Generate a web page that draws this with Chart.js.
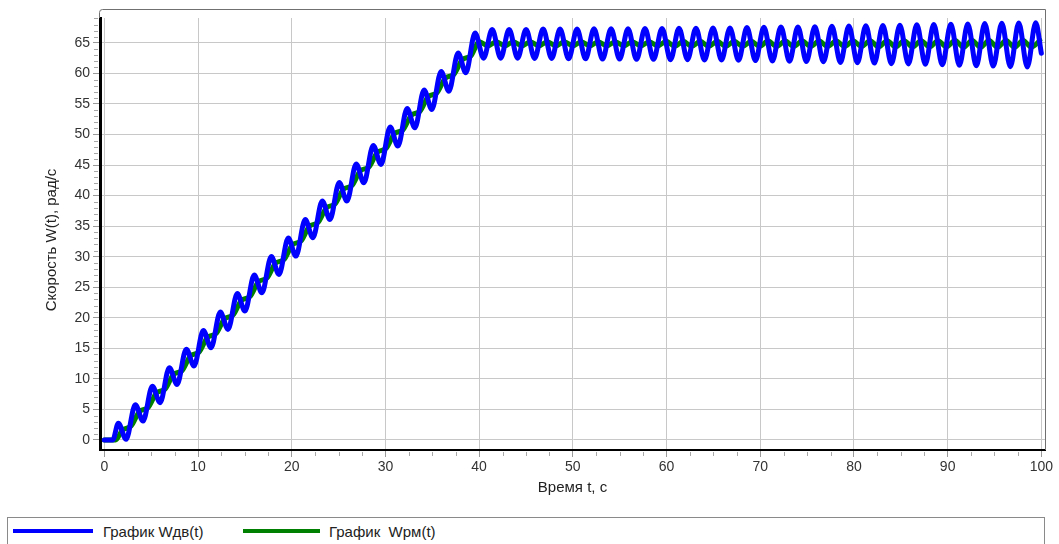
<!DOCTYPE html>
<html lang="ru">
<head>
<meta charset="utf-8">
<title>Скорость W(t)</title>
<script src="https://cdn.jsdelivr.net/npm/chart.js@4.4.1/dist/chart.umd.min.js"></script>
<style>
  html, body { margin: 0; padding: 0; background: #fff; }
  body { width: 1059px; height: 544px; overflow: hidden; position: relative; font-family: "Liberation Sans", Arial, sans-serif; }
  #wrap { position: absolute; left: 0; top: 0; width: 1059px; height: 505px; }
  #legend { position: absolute; left: 7px; top: 517px; width: 1038px; height: 40px; border: 1px solid #8a8a8a; box-sizing: border-box; }
  .swatch { position: absolute; top: 11px; height: 4px; }
  .item { position: absolute; top: 5px; font-size: 15px; line-height: 18px; color: #222; white-space: pre; }
</style>
</head>
<body>
<div id="wrap"><canvas id="chart" width="1059" height="505"></canvas></div>
<div id="legend">
  <div class="swatch" style="left:5px;width:80px;background:#0000ff"></div>
  <div class="item" style="left:95px">График Wдв(t)</div>
  <div class="swatch" style="left:235px;width:77px;background:#008000"></div>
  <div class="item" style="left:321px">График  Wрм(t)</div>
</div>
<script>
// Motor speed Wдв(t): start, then peaks/troughs of the oscillation, t in seconds
const wdvT = [0, 0.9,
  1.50, 2.32, 3.31, 4.13, 5.13, 5.95, 6.94, 7.76, 8.75, 9.57, 10.57, 11.39, 12.38, 13.20,
  14.19, 15.01, 16.00, 16.82, 17.82, 18.64, 19.63, 20.45, 21.44, 22.26, 23.26, 24.08,
  25.07, 25.89, 26.88, 27.70, 28.70, 29.52, 30.51, 31.33, 32.32, 33.14, 34.13, 34.95,
  35.95, 36.77, 37.76, 38.58,
  39.57, 40.48, 41.39, 42.30, 43.20, 44.11, 45.01, 45.92, 46.83, 47.74, 48.64, 49.55,
  50.45, 51.36, 52.26, 53.17, 54.08, 54.99, 55.89, 56.80, 57.70, 58.61, 59.52, 60.43,
  61.33, 62.24, 63.14, 64.05, 64.96, 65.87, 66.77, 67.68, 68.58, 69.49, 70.39, 71.30,
  72.21, 73.12, 74.02, 74.93, 75.83, 76.74, 77.65, 78.56, 79.46, 80.37, 81.27, 82.18,
  83.09, 84.00, 84.90, 85.81, 86.71, 87.62, 88.52, 89.43, 90.34, 91.25, 92.15, 93.06,
  93.96, 94.87, 95.78, 96.69, 97.59, 98.50, 99.40, 100];
const wdvV = [0, 0,
  2.75, 0.10, 5.78, 3.10, 8.81, 6.10, 11.84, 9.10, 14.87, 12.10, 17.90, 15.10, 20.93, 18.10,
  23.96, 21.10, 26.99, 24.10, 30.02, 27.10, 33.05, 30.10, 36.08, 33.10, 39.11, 36.10,
  42.14, 39.10, 45.17, 42.10, 48.20, 45.10, 51.23, 48.10, 54.26, 51.10, 57.29, 54.10,
  60.32, 57.10, 63.35, 60.10,
  66.6, 62.5, 67.2, 62.5, 67.2, 62.5, 67.2, 62.45, 67.25, 62.45, 67.25, 62.4,
  67.25, 62.4, 67.3, 62.35, 67.3, 62.35, 67.3, 62.3, 67.35, 62.3, 67.35, 62.25,
  67.4, 62.25, 67.4, 62.2, 67.45, 62.2, 67.45, 62.15, 67.5, 62.1, 67.55, 62.05,
  67.6, 62.0, 67.6, 61.95, 67.65, 61.9, 67.7, 61.8, 67.75, 61.75, 67.8, 61.7,
  67.85, 61.6, 67.9, 61.55, 67.95, 61.5, 68.0, 61.4, 68.05, 61.35, 68.1, 61.25,
  68.15, 61.2, 68.2, 61.1, 68.25, 61.05, 68.3, 63.3];

// Mechanism speed Wрм(t)
const wrmT = [0, 1.2,
  1.95, 2.86, 3.76, 4.67, 5.58, 6.49, 7.39, 8.30, 9.20, 10.11, 11.02, 11.93, 12.83, 13.74,
  14.64, 15.55, 16.45, 17.36, 18.27, 19.18, 20.08, 20.99, 21.89, 22.80, 23.71, 24.62,
  25.52, 26.43, 27.33, 28.24, 29.15, 30.06, 30.96, 31.87, 32.77, 33.68, 34.58, 35.49,
  36.40, 37.31, 38.21, 39.12,
  40.02, 40.93, 41.84, 42.75, 43.65, 44.56, 45.46, 46.37, 47.28, 48.19, 49.09, 50.00,
  50.90, 51.81, 52.71, 53.62, 54.53, 55.44, 56.34, 57.25, 58.15, 59.06, 59.97, 60.88,
  61.78, 62.69, 63.59, 64.50, 65.41, 66.32, 67.22, 68.13, 69.03, 69.94, 70.84, 71.75,
  72.66, 73.57, 74.47, 75.38, 76.28, 77.19, 78.10, 79.01, 79.91, 80.82, 81.72, 82.63,
  83.54, 84.45, 85.35, 86.26, 87.16, 88.07, 88.97, 89.88, 90.79, 91.70, 92.60, 93.51,
  94.41, 95.32, 96.23, 97.14, 98.04, 98.95, 99.85];
const wrmV = [0, 0,
  1.65, 2.27, 4.68, 5.30, 7.71, 8.33, 10.74, 11.36, 13.77, 14.39, 16.80, 17.42, 19.83, 20.45,
  22.86, 23.48, 25.89, 26.51, 28.92, 29.54, 31.95, 32.57, 34.98, 35.60, 38.01, 38.63,
  41.04, 41.66, 44.07, 44.69, 47.10, 47.72, 50.13, 50.75, 53.16, 53.78, 56.19, 56.81,
  59.22, 59.84, 62.25, 62.87,
  65.2, 64.5, 65.2, 64.5, 65.2, 64.5, 65.2, 64.5, 65.2, 64.5, 65.2, 64.5,
  65.2, 64.5, 65.2, 64.5, 65.2, 64.5, 65.2, 64.5, 65.2, 64.5, 65.25, 64.45,
  65.25, 64.45, 65.25, 64.45, 65.25, 64.45, 65.25, 64.45, 65.25, 64.45, 65.3, 64.4,
  65.3, 64.4, 65.3, 64.4, 65.3, 64.4, 65.3, 64.4, 65.3, 64.4, 65.35, 64.35,
  65.35, 64.35, 65.35, 64.35, 65.35, 64.35, 65.35, 64.35, 65.4, 64.3, 65.4, 64.3,
  65.4, 64.3, 65.4, 64.3, 65.4, 64.3, 65.4];

const seriesNames = ['График Wдв(t)', 'График  Wрм(t)'];
const yTitle = 'Скорость W(t), рад/с';

const fontFamily = '"Liberation Sans", Arial, sans-serif';
const tickFont = { family: fontFamily, size: 14 };
const titleFont = { family: fontFamily, size: 15 };

// small ticks between the labelled ones
const minorTicks = {
  id: 'minorTicks',
  afterDraw(chart) {
    const { ctx, chartArea: a, scales: { x, y } } = chart;
    ctx.save();
    ctx.strokeStyle = '#a8a8a8';
    ctx.lineWidth = 1;
    ctx.beginPath();
    for (let v = 1; v <= 69; v++) {
      if (v % 5 === 0) continue;
      const py = Math.round(y.getPixelForValue(v)) + 0.5;
      ctx.moveTo(a.left - 6, py);
      ctx.lineTo(a.left - 2, py);
    }
    for (let v = 2.5; v < 100; v += 2.5) {
      if (v % 10 === 0) continue;
      const px = Math.round(x.getPixelForValue(v)) + 0.5;
      ctx.moveTo(px, a.bottom + 2);
      ctx.lineTo(px, a.bottom + 6);
    }
    ctx.stroke();
    ctx.restore();
  }
};

// thin frame along the top and right of the plot, plus the rotated y title
const frame = {
  id: 'frame',
  beforeDatasetsDraw(chart) {
    const { ctx, chartArea: a } = chart;
    const top = a.top - 8.5;
    ctx.save();
    ctx.strokeStyle = '#707070';
    ctx.lineWidth = 1;
    ctx.beginPath();
    ctx.moveTo(a.left - 0.5, a.top);
    ctx.lineTo(a.left - 0.5, top + 3);
    ctx.quadraticCurveTo(a.left - 0.5, top, a.left + 2.5, top);
    ctx.lineTo(a.right + 0.5, top);
    ctx.lineTo(a.right + 0.5, a.bottom);
    ctx.stroke();

    ctx.translate(52, (a.top + a.bottom) / 2 + 6);
    ctx.rotate(-Math.PI / 2);
    ctx.font = `${titleFont.size}px ${fontFamily}`;
    ctx.fillStyle = '#222';
    ctx.textAlign = 'center';
    ctx.textBaseline = 'middle';
    ctx.fillText(yTitle, 0, 0);
    ctx.restore();
  }
};

new Chart(document.getElementById('chart'), {
  type: 'line',
  data: {
    datasets: [
      {
        label: seriesNames[0],
        data: wdvT.map((t, i) => ({ x: t, y: wdvV[i] })),
        borderColor: '#0000ff',
        borderWidth: 5,
        pointRadius: 0,
        cubicInterpolationMode: 'monotone',
        borderJoinStyle: 'round',
        borderCapStyle: 'round',
        fill: false
      },
      {
        label: seriesNames[1],
        data: wrmT.map((t, i) => ({ x: t, y: wrmV[i] })),
        borderColor: '#008000',
        borderWidth: 5,
        pointRadius: 0,
        cubicInterpolationMode: 'monotone',
        borderJoinStyle: 'round',
        borderCapStyle: 'round',
        fill: false
      }
    ]
  },
  options: {
    responsive: false,
    animation: false,
    devicePixelRatio: 1,
    layout: { padding: { top: 18, right: 14, left: 0, bottom: 0 } },
    plugins: {
      legend: { display: false },
      tooltip: { enabled: false }
    },
    scales: {
      x: {
        type: 'linear',
        min: -0.46,
        max: 100.39,
        afterFit: s => { s.height = 55; },
        ticks: { stepSize: 10, includeBounds: false, maxRotation: 0, autoSkip: false, font: tickFont, color: '#333', padding: 2 },
        grid: { color: '#c8c8c8', lineWidth: 1, tickColor: '#9a9a9a', tickLength: 7 },
        border: { color: '#000', width: 2 },
        title: { display: true, text: 'Время t, с', font: titleFont, color: '#222', padding: { top: 0, bottom: 8 } }
      },
      y: {
        min: -1.64,
        max: 69.07,
        afterFit: s => { s.width = 100; },
        ticks: { stepSize: 5, includeBounds: false, font: tickFont, color: '#333', padding: 3 },
        grid: { color: '#c8c8c8', lineWidth: 1, tickColor: '#9a9a9a', tickLength: 7 },
        border: { color: '#000', width: 3 },
        title: { display: false }
      }
    }
  },
  plugins: [frame, minorTicks]
});
</script>
</body>
</html>
